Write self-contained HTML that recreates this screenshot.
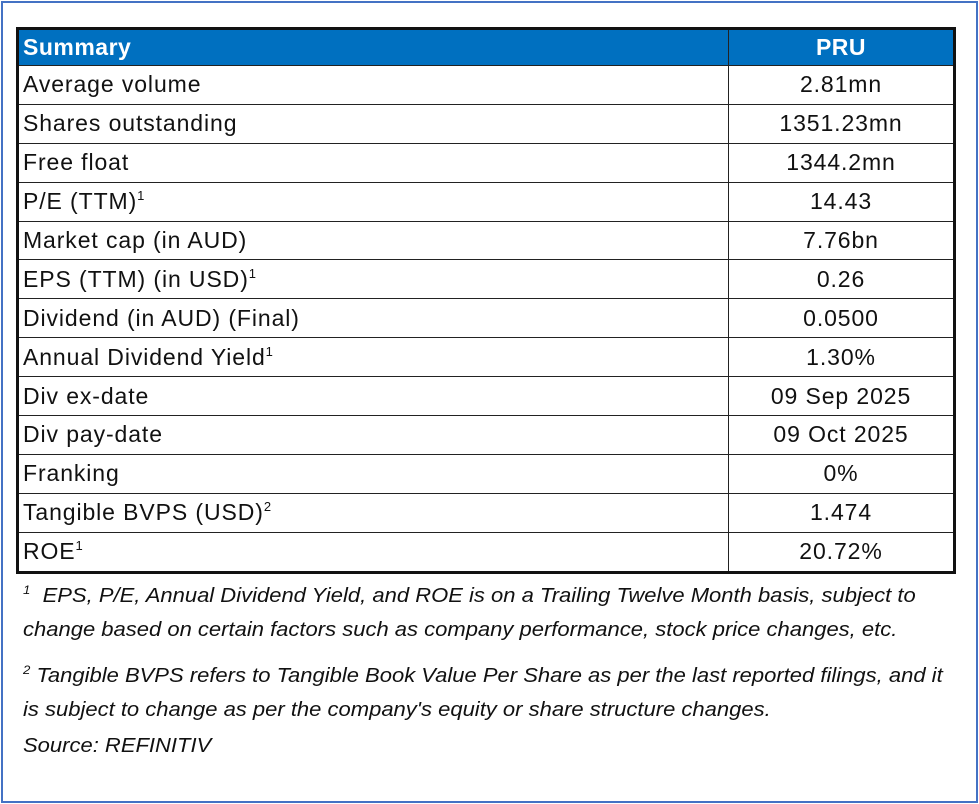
<!DOCTYPE html>
<html><head><meta charset="utf-8"><style>
html,body{margin:0;padding:0;background:#fff;}
body{width:979px;height:804px;position:relative;overflow:hidden;font-family:"Liberation Sans",sans-serif;}
#frame{position:absolute;left:1px;top:1px;width:973px;height:798px;border:2px solid #4472c4;}
table{position:absolute;left:16px;top:27px;border-collapse:collapse;width:940px;border:3px solid #111;}
td{border:1.5px solid #222;height:37.9px;padding:0 0 0 4px;font-size:23px;letter-spacing:0.9px;color:#111;line-height:37px;}
tr.h td{background:#0070c0;color:#fff;font-weight:bold;height:35px;line-height:35px;letter-spacing:0.5px;}
td.v{text-align:center;padding:0;width:224px;}
sup{font-size:13px;line-height:0;vertical-align:9px;letter-spacing:0;}
.fn{position:absolute;left:23px;font-size:20px;font-style:italic;color:#111;white-space:nowrap;transform-origin:0 0;transform:scaleX(1.1);}
.fn sup{font-size:12px;vertical-align:8px;}
</style></head><body>
<div id="frame"></div>
<table>
<tr class="h"><td>Summary</td><td class="v">PRU</td></tr>
<tr><td>Average volume</td><td class="v">2.81mn</td></tr>
<tr><td>Shares outstanding</td><td class="v">1351.23mn</td></tr>
<tr><td>Free float</td><td class="v">1344.2mn</td></tr>
<tr><td>P/E (TTM)<sup>1</sup></td><td class="v">14.43</td></tr>
<tr><td>Market cap (in AUD)</td><td class="v">7.76bn</td></tr>
<tr><td>EPS (TTM) (in USD)<sup>1</sup></td><td class="v">0.26</td></tr>
<tr><td>Dividend (in AUD) (Final)</td><td class="v">0.0500</td></tr>
<tr><td>Annual Dividend Yield<sup>1</sup></td><td class="v">1.30%</td></tr>
<tr><td>Div ex-date</td><td class="v">09 Sep 2025</td></tr>
<tr><td>Div pay-date</td><td class="v">09 Oct 2025</td></tr>
<tr><td>Franking</td><td class="v">0%</td></tr>
<tr><td>Tangible BVPS (USD)<sup>2</sup></td><td class="v">1.474</td></tr>
<tr><td>ROE<sup>1</sup></td><td class="v">20.72%</td></tr>
</table>
<div class="fn" style="top:585px"><sup>1</sup>&nbsp; EPS, P/E, Annual Dividend Yield, and ROE is on a Trailing Twelve Month basis, subject to</div>
<div class="fn" style="top:619px">change based on certain factors such as company performance, stock price changes, etc.</div>
<div class="fn" style="top:665px"><sup>2</sup> Tangible BVPS refers to Tangible Book Value Per Share as per the last reported filings, and it</div>
<div class="fn" style="top:699px">is subject to change as per the company's equity or share structure changes.</div>
<div class="fn" style="top:735px">Source: REFINITIV</div>
</body></html>
